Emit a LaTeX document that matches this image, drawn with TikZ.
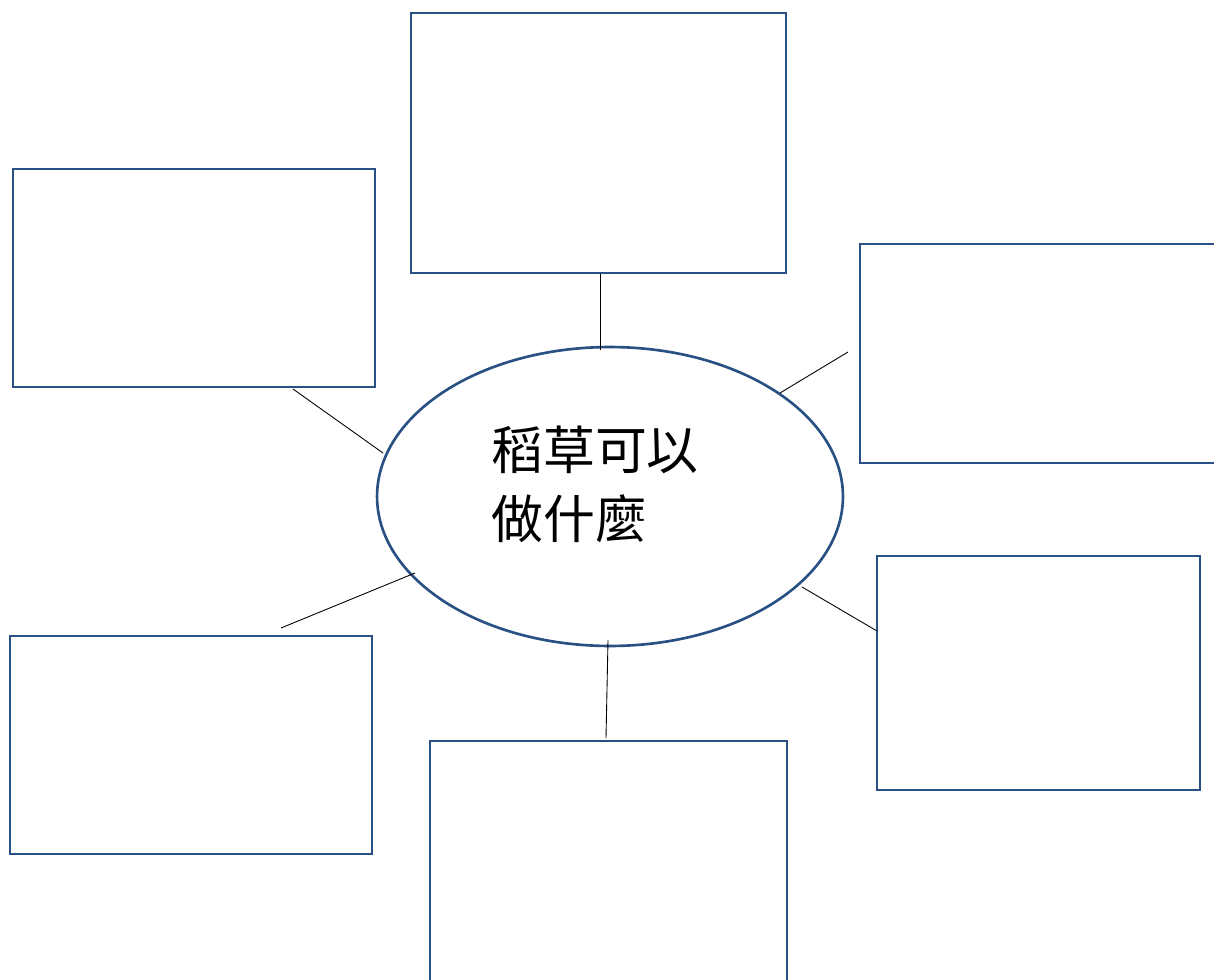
\documentclass[tikz,border=0pt]{standalone}
\usepackage{fontspec}
\newfontfamily\cjk{Noto Sans CJK TC}
\usetikzlibrary{shapes.geometric}
\definecolor{boxblue}{RGB}{40,80,130}
\tikzset{
  idea/.style={draw=boxblue, line width=1.5pt, rectangle, inner sep=0pt},
  hub/.style={draw=boxblue, line width=1.5pt, ellipse, inner sep=0pt},
  spoke/.style={draw=black, line width=0.5pt},
}

\begin{document}
\begin{tikzpicture}[x=0.02cm,y=-0.02cm]
			%%%%% START %%%%%
			
			\useasboundingbox (0,0) rectangle (1214,980);
			\clip (0,0) rectangle (1214,980);
			
			\node[hub, minimum width=9.32cm, minimum height=5.98cm] (hub) at (610,496.5) {};
			\node[font=\cjk\fontsize{29.5}{39}\selectfont, align=left, anchor=north west, inner sep=0pt] (question) at (491,426) {稻草可以\\做什麼};
			
			\node[idea, minimum width=7.5cm, minimum height=5.2cm] (top) at (598.5,143) {};
			\node[idea, minimum width=7.24cm, minimum height=4.36cm] (upleft) at (194,278) {};
			\node[idea, minimum width=7.6cm, minimum height=4.38cm] (upright) at (1050,353.5) {};
			\node[idea, minimum width=6.46cm, minimum height=4.68cm] (lowright) at (1038.5,673) {};
			\node[idea, minimum width=7.24cm, minimum height=4.36cm] (lowleft) at (191,745) {};
			\node[idea, minimum width=7.14cm, minimum height=5.2cm] (bottom) at (608.5,871) {};
			
			\coordinate (a1) at (600,274); \coordinate (a2) at (600,350);
			\coordinate (b1) at (293,389); \coordinate (b2) at (383,453);
			\coordinate (c1) at (848,352); \coordinate (c2) at (780,393);
			\coordinate (d1) at (281,628); \coordinate (d2) at (415,573);
			\coordinate (e1) at (877,631); \coordinate (e2) at (802,587);
			\coordinate (f1) at (606,738); \coordinate (f2) at (608,640);
			
			\draw[spoke] (a1) -- (a2);
			\draw[spoke] (b1) -- (b2);
			\draw[spoke] (c1) -- (c2);
			\draw[spoke] (d1) -- (d2);
			\draw[spoke] (e1) -- (e2);
			\draw[spoke] (f1) -- (f2);
			
			%%%%% END %%%%%
\end{tikzpicture}
\end{document}
